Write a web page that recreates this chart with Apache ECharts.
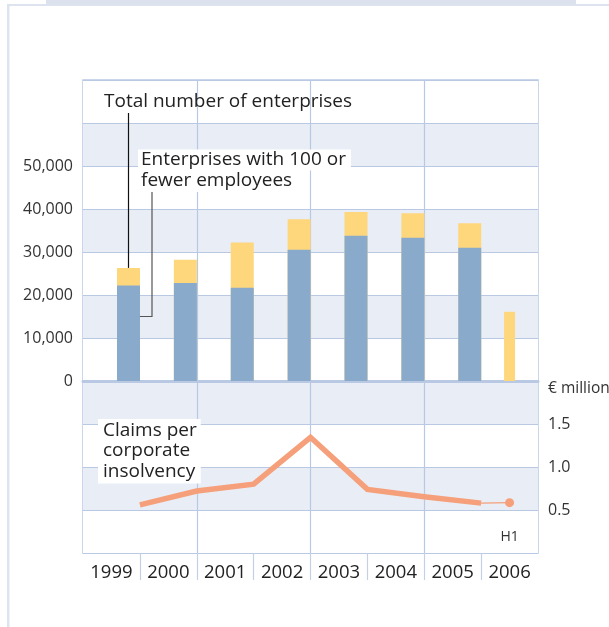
<!DOCTYPE html>
<html><head><meta charset="utf-8">
<script src="https://cdn.jsdelivr.net/npm/echarts@6/dist/echarts.min.js"></script>
<style>html,body{margin:0;padding:0;background:#fff}#c{width:609px;height:627px}</style>
</head><body><div id="c"></div>
<script>
// ---- data ----
const years = ['1999', '2000', '2001', '2002', '2003', '2004', '2005', '2006'];
const totalEnterprises = [26300, 28200, 32200, 37600, 39300, 39000, 36700, 16100];
const smallEnterprises = [22200, 22800, 21700, 30500, 33800, 33300, 31000, null];
const claimsPerInsolvency = [0.56, 0.72, 0.80, 1.345, 0.74, 0.655, 0.58, 0.585];
const halfYear = [false, false, false, false, false, false, false, true];
const enterpriseTickLabels = ['0', '10,000', '20,000', '30,000', '40,000', '50,000'];
const claimTickLabels = ['0.5', '1.0', '1.5'];
const claimUnit = '€ million';

// ---- style ----
const FONT = 'Open Sans';
const GRID_LINE = '#b9c9e3';
const BAND = '#e9eef6';
const BLUE = '#89aaca';
const YELLOW = '#fed67c';
const SALMON = '#f5a07a';
const TXT = '#222222';

// position helpers (in category units: category i spans [i, i+1])
const barX = i => halfYear[i] ? i + 0.5 : i + 0.8;
const lineX = i => halfYear[i] ? i + 0.5 : i + 1;

const fullIdx = years.map((y, i) => i).filter(i => !halfYear[i]);
const halfIdx = years.map((y, i) => i).filter(i => halfYear[i]);

const gridBase = { left: 83, right: 71, show: true, borderColor: GRID_LINE, borderWidth: 1.5, backgroundColor: 'transparent' };
const hiddenValX = (gridIndex, position) => ({
  type: 'value', gridIndex, position, min: 0, max: years.length, show: false
});
const vSplitX = (gridIndex, position, interval, color) => ({
  type: 'value', gridIndex, position, min: 0, max: years.length, interval,
  axisLine: { show: false }, axisTick: { show: false }, axisLabel: { show: false },
  splitLine: { show: true, showMinLine: false, showMaxLine: false, lineStyle: { color, width: 1.2 } }
});

const option = {
  animation: false,
  backgroundColor: '#ffffff',
  textStyle: { fontFamily: FONT },
  grid: [
    Object.assign({ top: 80, height: 301 }, gridBase),
    Object.assign({ top: 381, height: 172 }, gridBase),
    { left: 83, right: 71, top: 553, height: 27, show: false }
  ],
  xAxis: [
    Object.assign(vSplitX(0, 'bottom', 2, GRID_LINE), { axisLine: { show: true, onZero: true, lineStyle: { color: GRID_LINE, width: 3 } } }),
    hiddenValX(0, 'top'),
    vSplitX(1, 'top', 2, GRID_LINE),
    {
      type: 'category', gridIndex: 1, position: 'bottom', data: years, boundaryGap: true,
      axisLine: { show: false }, axisTick: { show: false },
      axisLabel: { fontSize: 18.5, color: TXT, margin: 10, fontFamily: FONT }
    },
    vSplitX(2, 'bottom', 1, '#c3d0e6')
  ],
  yAxis: [
    {
      type: 'value', gridIndex: 0, position: 'left', min: 0, max: 70000, interval: 10000,
      axisLine: { show: false }, axisTick: { show: false },
      axisLabel: {
        fontSize: 16, color: '#333', margin: 10, fontFamily: FONT,
        formatter: v => { const k = Math.round(v / 10000); return k < enterpriseTickLabels.length ? enterpriseTickLabels[k] : ''; }
      },
      splitLine: { show: true, lineStyle: { color: GRID_LINE, width: 1.2 } },
      splitArea: { show: true, areaStyle: { color: ['#ffffff', BAND] } }
    },
    {
      type: 'value', gridIndex: 1, position: 'right', min: 0, max: 2, interval: 0.5,
      axisLine: { show: false }, axisTick: { show: false },
      axisLabel: {
        fontSize: 16, color: '#333', margin: 10, fontFamily: FONT,
        formatter: v => { const k = Math.round(v / 0.5) - 1; return (k >= 0 && k < claimTickLabels.length) ? claimTickLabels[k] : ''; }
      },
      splitLine: { show: true, lineStyle: { color: GRID_LINE, width: 1.2 } },
      splitArea: { show: true, areaStyle: { color: ['#ffffff', BAND] } }
    },
    { type: 'value', gridIndex: 2, show: false, min: 0, max: 1 }
  ],
  series: [
    {
      name: 'Total number of enterprises', type: 'bar', xAxisIndex: 0, yAxisIndex: 0,
      barWidth: 23, barGap: '-100%', itemStyle: { color: YELLOW },
      data: fullIdx.map(i => [barX(i), totalEnterprises[i]]), z: 2
    },
    {
      name: 'Enterprises with 100 or fewer employees', type: 'bar', xAxisIndex: 0, yAxisIndex: 0,
      barWidth: 23, barGap: '-100%', itemStyle: { color: BLUE },
      data: fullIdx.map(i => [barX(i), smallEnterprises[i]]), z: 3
    },
    {
      name: 'Total number of enterprises (H1)', type: 'bar', xAxisIndex: 1, yAxisIndex: 0,
      barWidth: 11, itemStyle: { color: YELLOW },
      data: halfIdx.map(i => [barX(i), totalEnterprises[i]]), z: 2
    },
    {
      name: 'Claims per corporate insolvency', type: 'line', xAxisIndex: 2, yAxisIndex: 1,
      showSymbol: false, symbol: 'none',
      lineStyle: { color: SALMON, width: 5.5, cap: 'butt', join: 'miter' },
      data: fullIdx.map(i => [lineX(i), claimsPerInsolvency[i]]), z: 4
    },
    {
      name: 'Claims per corporate insolvency (H1)', type: 'line', xAxisIndex: 2, yAxisIndex: 1,
      lineStyle: { color: SALMON, width: 1.2 }, itemStyle: { color: SALMON },
      data: [
        { value: [lineX(fullIdx[fullIdx.length - 1]), claimsPerInsolvency[fullIdx[fullIdx.length - 1]]], symbol: 'none' },
        ...halfIdx.map(i => ({
          value: [lineX(i), claimsPerInsolvency[i]], symbol: 'circle', symbolSize: 9,
          label: { show: true, position: 'bottom', distance: 23, formatter: 'H1', fontSize: 14, color: '#333', fontFamily: FONT }
        }))
      ], z: 4
    }
  ]
};

const chart = echarts.init(document.getElementById('c'), null, { renderer: 'canvas' });
chart.setOption(option);

const pxBar = (x, y) => chart.convertToPixel({ seriesIndex: 0 }, [x, y]);
const pxLine = (x, y) => chart.convertToPixel({ seriesIndex: 3 }, [x, y]);
const leader1Bottom = pxBar(barX(0), totalEnterprises[0]);
const leader2End = pxBar(1, 15000);
const unitAnchor = pxLine(years.length, 2);
const annFont = `19px "${FONT}"`;

chart.setOption({
  graphic: [
    { type: 'rect', silent: true, z: -10, shape: { x: 46, y: 0, width: 530, height: 4 }, style: { fill: '#dbe2ee' } },
    { type: 'rect', silent: true, z: -10, shape: { x: 7, y: 4, width: 602, height: 2 }, style: { fill: '#dde4ef' } },
    { type: 'rect', silent: true, z: -10, shape: { x: 7, y: 4, width: 2.5, height: 623 }, style: { fill: '#dde4ef' } },
    {
      type: 'text', z: 20, x: unitAnchor[0] + 10, y: unitAnchor[1] + 8,
      style: { text: claimUnit, font: `15.5px "${FONT}"`, fill: '#333', verticalAlign: 'middle' }
    },
    {
      type: 'text', z: 20, x: 104, y: 102,
      style: { text: 'Total number of enterprises', font: annFont, fill: TXT, verticalAlign: 'middle' }
    },
    {
      type: 'line', z: 20, shape: { x1: leader1Bottom[0], y1: 113, x2: leader1Bottom[0], y2: leader1Bottom[1] },
      style: { stroke: '#111', lineWidth: 1.2 }
    },
    {
      type: 'text', z: 20, x: 138, y: 160,
      style: { text: 'Enterprises with 100 or', font: annFont, fill: TXT, verticalAlign: 'middle',
        backgroundColor: '#fff', padding: [1, 5, 1, 3] }
    },
    {
      type: 'text', z: 20, x: 138, y: 181,
      style: { text: 'fewer employees', font: annFont, fill: TXT, verticalAlign: 'middle',
        backgroundColor: '#fff', padding: [1, 5, 2, 3] }
    },
    {
      type: 'polyline', z: 20,
      shape: { points: [[152, 192], [152, leader2End[1]], [leader2End[0], leader2End[1]]] },
      style: { stroke: '#555', lineWidth: 1.2, fill: null }
    },
    {
      type: 'text', z: 20, x: 98, y: 419,
      style: { text: 'Claims per\ncorporate\ninsolvency', font: annFont, fill: TXT, lineHeight: 20.5,
        backgroundColor: '#fff', padding: [1, 4, 2, 5] }
    }
  ]
});
</script>
</body></html>
